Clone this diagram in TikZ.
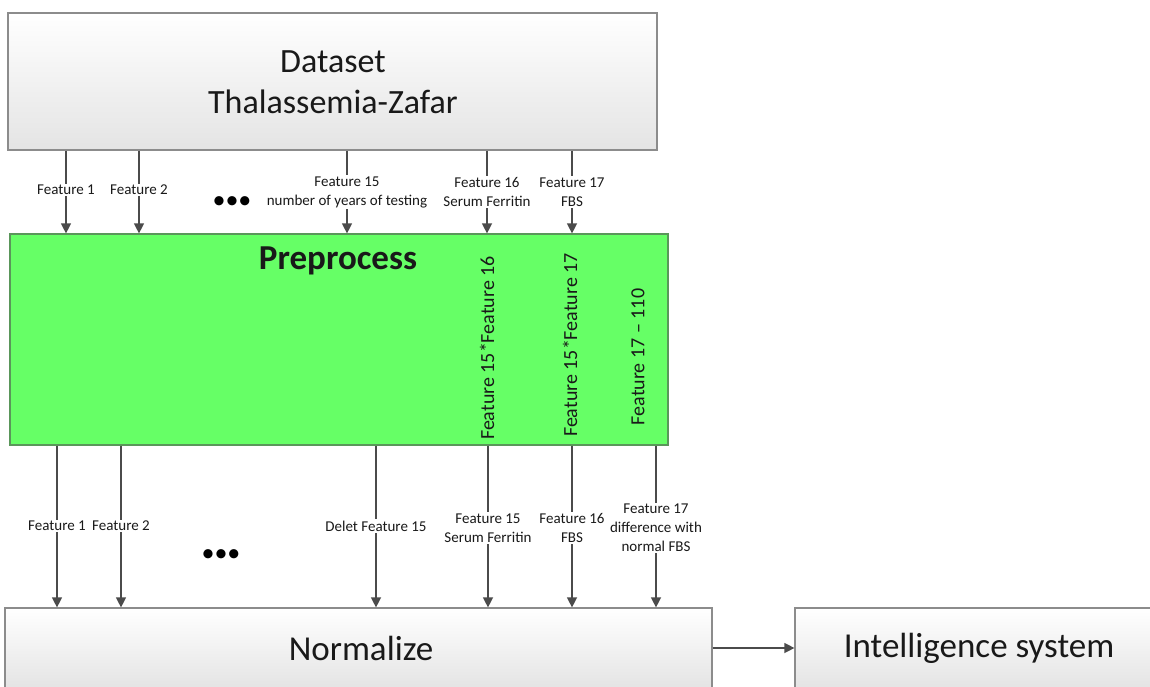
\documentclass[tikz,border=0pt]{standalone}
\usepackage{fontspec}
\setmainfont{Carlito}
\usetikzlibrary{arrows.meta}
\definecolor{boxline}{RGB}{140,140,140}
\definecolor{arrowc}{RGB}{75,75,75}
\definecolor{txt}{RGB}{25,25,25}
\definecolor{ppfill}{RGB}{102,255,102}
\definecolor{ppline}{RGB}{90,150,90}
\definecolor{greyb}{RGB}{228,228,228}
\tikzset{
  gbox/.style={draw=boxline, line width=1.2pt, top color=white, bottom color=greyb, rectangle, inner sep=0pt},
  bigtxt/.style={font=\fontsize{34}{41}\selectfont, text=txt, align=center},
  bigtxtb/.style={font=\fontsize{35}{41}\selectfont, text=txt, align=center},
  arr/.style={draw=arrowc, line width=1.3pt, -{Triangle[length=10pt,width=10pt]}},
  lab/.style={fill=white, font=\fontsize{15}{19}\selectfont, text=txt, inner sep=1.5pt, align=center},
  rot/.style={rotate=90, font=\fontsize{20}{22}\selectfont, text=txt},
  dots/.style={font=\fontsize{26}{26}\selectfont, text=black, inner sep=0pt}
}
\begin{document}
\begin{tikzpicture}[x=1pt,y=-1pt]
\clip (0,0) rectangle (1150,687);
\fill[white] (0,0) rectangle (1150,687);
% boxes
\node[gbox, minimum width=649pt, minimum height=137pt] (ds) at (332.5,81.5) {};
\node[bigtxt] (dst) at (333,82.5) {Dataset\\Thalassemia-Zafar};
\node[draw=ppline, line width=1.2pt, fill=ppfill, minimum width=658pt, minimum height=211pt, inner sep=0pt] (pp) at (339,339.5) {};
\node[font=\fontsize{35}{38}\selectfont\bfseries, text=txt] (ppt) at (338,261) {Preprocess};
\node[rot] (r1) at (487,348) {Feature 15*Feature 16};
\node[rot] (r2) at (570,345) {Feature 15*Feature 17};
\node[rot] (r3) at (638,357) {Feature 17 -- 110};
\node[gbox, minimum width=707pt, minimum height=80pt] (nm) at (358.5,648) {};
\node[bigtxtb] (nmt) at (361,648) {Normalize};
\node[gbox, minimum width=365pt, minimum height=80pt] (is) at (977.5,648) {};
\node[bigtxtb] (ist) at (979,648) {Intelligence system};
% x positions
\coordinate (t1) at (66,0);
\coordinate (t2) at (139,0);
\coordinate (t3) at (347,0);
\coordinate (t4) at (487,0);
\coordinate (t5) at (572,0);
\coordinate (b1) at (57,0);
\coordinate (b2) at (121,0);
\coordinate (b3) at (376,0);
\coordinate (b4) at (488,0);
\coordinate (b5) at (572,0);
\coordinate (b6) at (656,0);
% top arrows
\foreach \c in {t1,t2,t3,t4,t5}{
  \draw[arr] (ds.south -| \c) -- (pp.north -| \c);
}
\node[lab] (l1) at (66,190) {Feature 1};
\node[lab] (l2) at (139,190) {Feature 2};
\node[lab] (l3) at (347,192) {Feature 15\\number of years of testing};
\node[lab] (l4) at (487,192) {Feature 16\\Serum Ferritin};
\node[lab] (l5) at (572,192) {Feature 17\\FBS};
\node[dots] (d1) at (232,203) {•••};
% bottom arrows
\foreach \c in {b1,b2,b3,b4,b5,b6}{
  \draw[arr] (pp.south -| \c) -- (nm.north -| \c);
}
\node[lab] (m1) at (57,526) {Feature 1};
\node[lab] (m2) at (121,526) {Feature 2};
\node[lab] (m3) at (376,526) {Delet Feature 15};
\node[lab] (m4) at (488,528) {Feature 15\\Serum Ferritin};
\node[lab] (m5) at (572,528) {Feature 16\\FBS};
\node[lab] (m6) at (656,528) {Feature 17\\difference with\\normal FBS};
\node[dots] (d2) at (221,556) {•••};
% right arrow
\draw[arr] (nm.east) -- (is.west);
\end{tikzpicture}
\end{document}
